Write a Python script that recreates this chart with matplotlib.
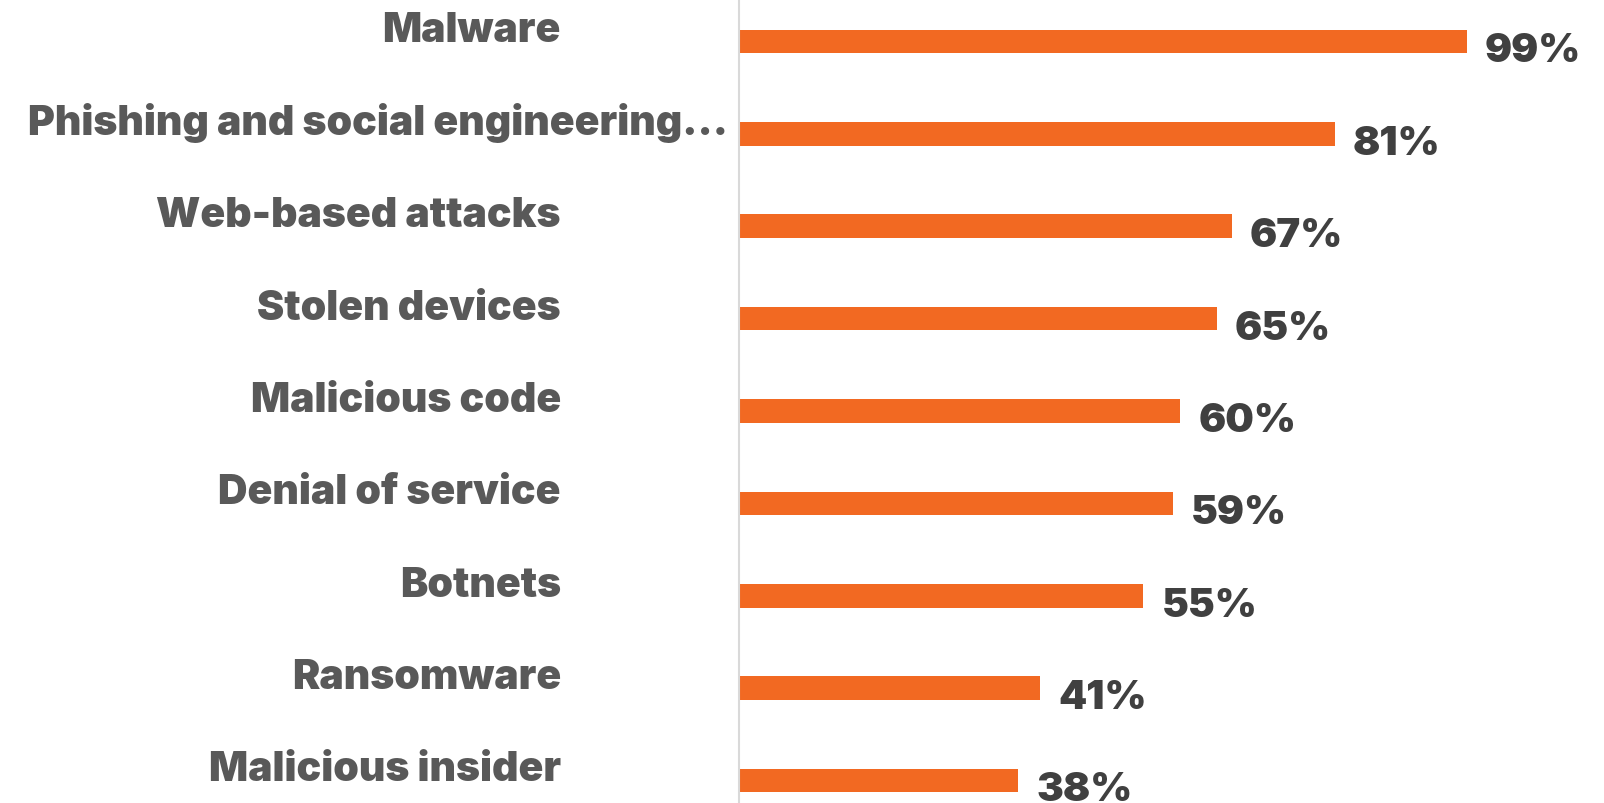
import matplotlib.pyplot as plt
import matplotlib.transforms as mtransforms

categories = ['Malware', 'Phishing and social engineering...', 'Web-based attacks',
              'Stolen devices', 'Malicious code', 'Denial of service', 'Botnets',
              'Ransomware', 'Malicious insider']
values = [99, 81, 67, 65, 60, 59, 55, 41, 38]

W, H = 1604, 804
fig = plt.figure(figsize=(W / 100, H / 100), dpi=100)
# axis line sits at x=739px, 99% ends at 1467px
ax = fig.add_axes([739 / W, 0, 1 - 739 / W, 1])
pxPerUnit = (1467 - 739) / 99.0
step = 92.375
ax.set_xlim(0, (W - 739) / pxPerUnit)
ax.set_ylim((H - 42.5) / step, -42.5 / step)

ypos = list(range(len(categories)))
ax.barh(ypos, values, height=0.255, color='#F26922')

for s in ['top', 'right', 'bottom']:
    ax.spines[s].set_visible(False)
ax.spines['left'].set_color('#D9D9D9')
ax.spines['left'].set_linewidth(1.5)
ax.set_xticks([])
ax.set_yticks([])

font = ['Inter', 'DejaVu Sans']
trans = mtransforms.blended_transform_factory(fig.transFigure, ax.transData)
for y, cat in zip(ypos, categories):
    xr = 728 if cat.startswith('Phishing') else 561
    ax.text(xr / W, y, cat, transform=trans, ha='right', va='baseline',
            fontsize=29.5, fontweight='black', color='#595959', family=font)

for y, v in zip(ypos, values):
    ax.annotate('%d%%' % v, (v, y), xytext=(18, -20), textcoords='offset pixels',
                ha='left', va='baseline', fontsize=29, fontweight='black',
                color='#404040', family=font, annotation_clip=False)

fig.savefig('out.png', dpi=100)
